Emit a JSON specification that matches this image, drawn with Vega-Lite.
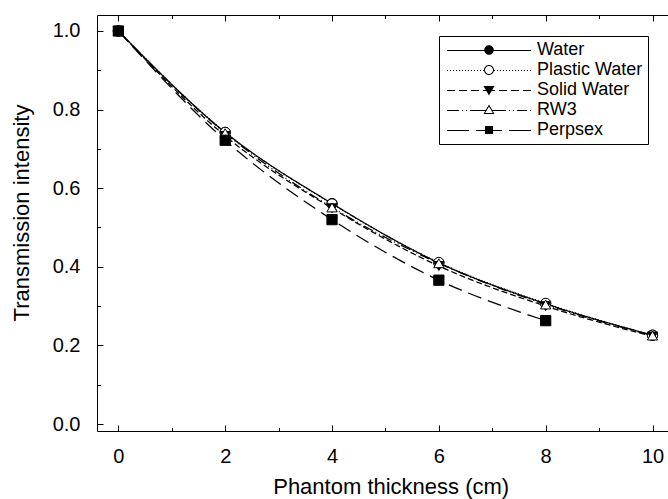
{
  "$schema": "https://vega.github.io/schema/vega-lite/v6.json",
  "width": 571,
  "height": 416,
  "autosize": {"type": "none"},
  "padding": {"left": 97, "top": 15, "right": 0, "bottom": 68},
  "background": "white",
  "config": {
    "view": {"stroke": null},
    "font": "Liberation Sans",
    "axis": {
      "domainColor": "black",
      "domainWidth": 1,
      "tickColor": "black",
      "tickWidth": 1,
      "labelColor": "black",
      "titleColor": "black",
      "labelFont": "Liberation Sans",
      "titleFont": "Liberation Sans",
      "labelFontSize": 20,
      "titleFontSize": 22,
      "titleFontWeight": "normal",
      "grid": false
    },
    "legend": {"labelFont": "Liberation Sans", "labelColor": "black"}
  },
  "data": {
    "values": [
      {"series": "Water", "x": 0, "y": 1.0},
      {"series": "Water", "x": 2, "y": 0.742},
      {"series": "Water", "x": 4, "y": 0.561},
      {"series": "Water", "x": 6, "y": 0.41},
      {"series": "Water", "x": 8, "y": 0.306},
      {"series": "Water", "x": 10, "y": 0.226},
      {"series": "Plastic Water", "x": 0, "y": 1.0},
      {"series": "Plastic Water", "x": 2, "y": 0.742},
      {"series": "Plastic Water", "x": 4, "y": 0.56},
      {"series": "Plastic Water", "x": 6, "y": 0.411},
      {"series": "Plastic Water", "x": 8, "y": 0.307},
      {"series": "Plastic Water", "x": 10, "y": 0.226},
      {"series": "Solid Water", "x": 0, "y": 1.0},
      {"series": "Solid Water", "x": 2, "y": 0.733},
      {"series": "Solid Water", "x": 4, "y": 0.549},
      {"series": "Solid Water", "x": 6, "y": 0.402},
      {"series": "Solid Water", "x": 8, "y": 0.3},
      {"series": "Solid Water", "x": 10, "y": 0.223},
      {"series": "RW3", "x": 0, "y": 1.0},
      {"series": "RW3", "x": 2, "y": 0.74},
      {"series": "RW3", "x": 4, "y": 0.551},
      {"series": "RW3", "x": 6, "y": 0.409},
      {"series": "RW3", "x": 8, "y": 0.304},
      {"series": "RW3", "x": 10, "y": 0.225},
      {"series": "Perpsex", "x": 0, "y": 1.0},
      {"series": "Perpsex", "x": 2, "y": 0.722},
      {"series": "Perpsex", "x": 4, "y": 0.52},
      {"series": "Perpsex", "x": 6, "y": 0.366},
      {"series": "Perpsex", "x": 8, "y": 0.263}
    ]
  },
  "resolve": {"scale": {"shape": "independent", "fill": "independent"}},
  "layer": [
    {
      "mark": {"type": "line", "interpolate": "monotone", "color": "black", "strokeWidth": 1.25},
      "encoding": {
        "x": {
          "field": "x", "type": "quantitative",
          "scale": {"domain": [-0.4, 10.29], "nice": false, "zero": false},
          "axis": {
            "orient": "bottom",
            "title": "Phantom thickness (cm)",
            "values": [0, 1, 2, 3, 4, 5, 6, 7, 8, 9, 10],
            "format": "d",
            "labelExpr": "datum.value % 2 === 0 ? datum.label : ''",
            "tickSize": {"condition": {"test": "datum.value % 2 === 0", "value": -6}, "value": -3.5},
            "labelPadding": 21,
            "titlePadding": 10,
            "titleX": 293.7
          }
        },
        "y": {
          "field": "y", "type": "quantitative",
          "scale": {"domain": [-0.0178, 1.0407], "nice": false, "zero": false},
          "axis": {
            "orient": "left",
            "title": "Transmission intensity",
            "values": [0, 0.1, 0.2, 0.3, 0.4, 0.5, 0.6, 0.7, 0.8, 0.9, 1.0],
            "format": ".1f",
            "labelExpr": "round(datum.value * 10) % 2 === 0 ? datum.label : ''",
            "tickSize": {"condition": {"test": "round(datum.value * 10) % 2 === 0", "value": -6}, "value": -3.5},
            "labelPadding": 23,
            "titlePadding": 19,
            "titleY": 197.5
          }
        },
        "strokeDash": {
          "field": "series", "type": "nominal",
          "scale": {
            "domain": ["Water", "Plastic Water", "Solid Water", "RW3", "Perpsex"],
            "range": [[1, 0], [1, 2], [6, 3], [10, 3, 1, 3, 1, 3], [14, 7]]
          },
          "legend": null
        },
        "detail": {"field": "series", "type": "nominal"}
      }
    },
    {
      "mark": {"type": "point", "filled": true, "opacity": 1, "size": 105, "stroke": "black", "strokeWidth": 1},
      "encoding": {
        "x": {
          "field": "x", "type": "quantitative",
          "axis": {
            "orient": "top",
            "title": null,
            "labels": false,
            "values": [0, 1, 2, 3, 4, 5, 6, 7, 8, 9, 10],
            "tickSize": {"condition": {"test": "datum.value % 2 === 0", "value": -6}, "value": -3.5}
          }
        },
        "y": {
          "field": "y", "type": "quantitative",
          "axis": {
            "orient": "left",
            "title": "Transmission intensity",
            "values": [0, 0.1, 0.2, 0.3, 0.4, 0.5, 0.6, 0.7, 0.8, 0.9, 1.0],
            "format": ".1f",
            "labelExpr": "round(datum.value * 10) % 2 === 0 ? datum.label : ''",
            "tickSize": {"condition": {"test": "round(datum.value * 10) % 2 === 0", "value": -6}, "value": -3.5},
            "labelPadding": 23,
            "titlePadding": 19,
            "titleY": 197.5
          }
        },
        "shape": {
          "field": "series", "type": "nominal",
          "scale": {
            "domain": ["Water", "Plastic Water", "Solid Water", "RW3", "Perpsex"],
            "range": ["circle", "circle", "triangle-down", "triangle-up", "square"]
          },
          "legend": null
        },
        "fill": {
          "field": "series", "type": "nominal",
          "scale": {
            "domain": ["Water", "Plastic Water", "Solid Water", "RW3", "Perpsex"],
            "range": ["black", "white", "black", "white", "black"]
          },
          "legend": null
        }
      }
    },
    {
      "transform": [{"filter": "false"}],
      "mark": {"type": "point", "filled": true, "opacity": 1, "size": 100, "color": "black"},
      "encoding": {
        "x": {"field": "x", "type": "quantitative", "axis": null},
        "y": {
          "field": "y", "type": "quantitative",
          "axis": {
            "orient": "left",
            "title": "Transmission intensity",
            "values": [0, 0.1, 0.2, 0.3, 0.4, 0.5, 0.6, 0.7, 0.8, 0.9, 1.0],
            "format": ".1f",
            "labelExpr": "round(datum.value * 10) % 2 === 0 ? datum.label : ''",
            "tickSize": {"condition": {"test": "round(datum.value * 10) % 2 === 0", "value": -6}, "value": -3.5},
            "labelPadding": 23,
            "titlePadding": 19,
            "titleY": 197.5
          }
        },
        "shape": {
          "field": "series", "type": "nominal",
          "scale": {
            "domain": ["Water", "Plastic Water", "Solid Water", "RW3", "Perpsex"],
            "range": [
              "M-8.4,0H8.4V0.2H-8.4ZM0.95,0A0.95,0.95,0,1,1,-0.95,0A0.95,0.95,0,1,1,0.95,0Z",
              "M-8.4,0H-8.2V0.2H-8.4ZM-7.8,0H-7.6V0.2H-7.8ZM-7.2,0H-7V0.2H-7.2ZM-6.6,0H-6.4V0.2H-6.6ZM-6,0H-5.8V0.2H-6ZM-5.4,0H-5.2V0.2H-5.4ZM-4.8,0H-4.6V0.2H-4.8ZM-4.2,0H-4V0.2H-4.2ZM-3.6,0H-3.4V0.2H-3.6ZM-3,0H-2.8V0.2H-3ZM-2.4,0H-2.2V0.2H-2.4ZM-1.8,0H-1.6V0.2H-1.8ZM-1.2,0H-1V0.2H-1.2ZM1,0H1.2V0.2H1ZM1.6,0H1.8V0.2H1.6ZM2.2,0H2.4V0.2H2.2ZM2.8,0H3V0.2H2.8ZM3.4,0H3.6V0.2H3.4ZM4,0H4.2V0.2H4ZM4.6,0H4.8V0.2H4.6ZM5.2,0H5.4V0.2H5.2ZM5.8,0H6V0.2H5.8ZM6.4,0H6.6V0.2H6.4ZM7,0H7.2V0.2H7ZM7.6,0H7.8V0.2H7.6ZM8.2,0H8.4V0.2H8.2ZM1,0A1,1,0,1,1,-1,0A1,1,0,1,1,1,0ZM0.8,0A0.8,0.8,0,1,0,-0.8,0A0.8,0.8,0,1,0,0.8,0Z",
              "M-8.4,0H-6.8V0.2H-8.4ZM-6,0H-4.4V0.2H-6ZM-3.6,0H-2V0.2H-3.6ZM-1.2,0H1.2V0.2H-1.2ZM2,0H3.6V0.2H2ZM4.4,0H6V0.2H4.4ZM6.8,0H8.4V0.2H6.8ZM0,1.1L-1.1,-0.8L1.1,-0.8Z",
              "M-8.4,0H-6V0.2H-8.4ZM-5.4,0H-5.2V0.2H-5.4ZM-4.6,0H-4.4V0.2H-4.6ZM-3.8,0H-0.6V0.2H-3.8ZM0.6,0H3.4V0.2H0.6ZM4,0H4.2V0.2H4ZM4.8,0H5V0.2H4.8ZM5.6,0H7.6V0.2H5.6ZM8.2,0H8.4V0.2H8.2ZM0,-1.1L1.1,0.8L-1.1,0.8ZM0,-0.7L-0.75,0.6L0.75,0.6Z",
              "M-8.4,0H-4V0.2H-8.4ZM-2.6,0H2.6V0.2H-2.6ZM4,0H8.4V0.2H4ZM-0.8,-0.8H0.8V0.8H-0.8Z"
            ]
          },
          "legend": {
            "orient": "none", "legendX": 342, "legendY": 21, "title": null,
            "strokeColor": "black", "padding": 5,
            "symbolOffset": 36, "labelOffset": 39, "labelFontSize": 18,
            "rowPadding": 2, "symbolSize": 100, "symbolStrokeWidth": 0,
            "symbolFillColor": "black"
          }
        }
      }
    }
  ]
}
